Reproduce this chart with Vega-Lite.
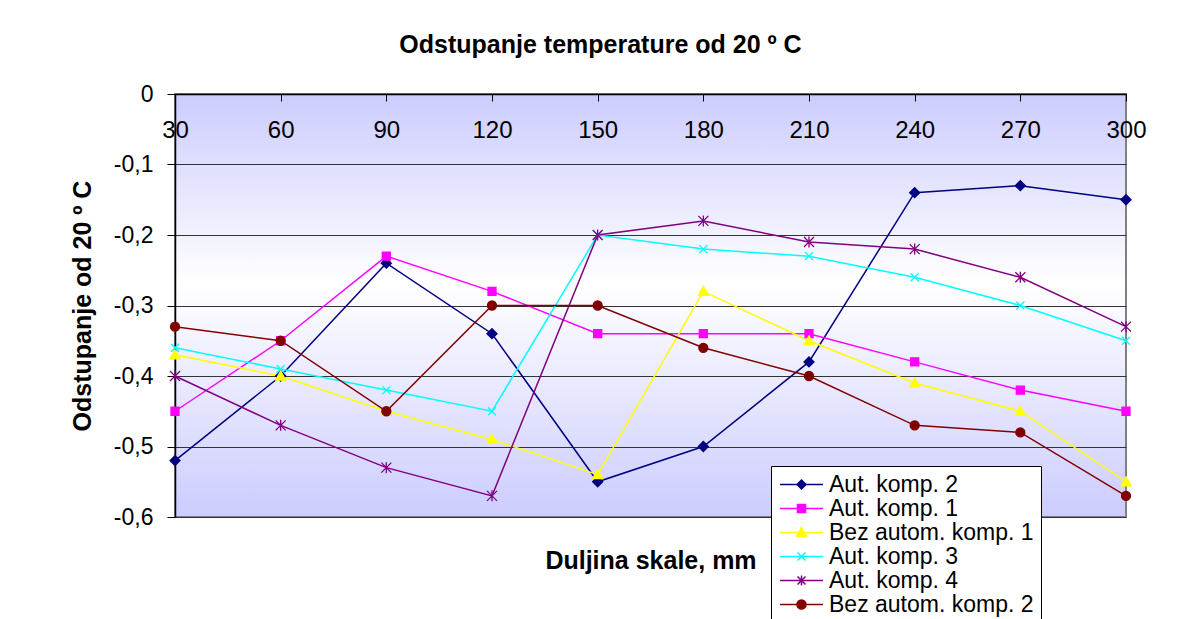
{
  "$schema": "https://vega.github.io/schema/vega-lite/v6.json",
  "width": 951,
  "height": 423,
  "autosize": {"type": "none"},
  "padding": {"left": 175, "top": 94, "right": 51, "bottom": 102},
  "background": "white",
  "title": {
    "text": "Odstupanje temperature od 20 º C",
    "font": "Liberation Sans",
    "fontSize": 25,
    "fontWeight": "bold",
    "color": "black",
    "anchor": "middle",
    "dx": -50,
    "dy": 36,
    "baseline": "alphabetic",
    "offset": 41
  },
  "config": {
    "font": "Liberation Sans",
    "view": {
      "fill": {
        "gradient": "linear",
        "x1": 0, "y1": 0, "x2": 0, "y2": 1,
        "stops": [
          {"offset": 0, "color": "#CCCCFF"},
          {"offset": 0.45, "color": "#FFFFFF"},
          {"offset": 1, "color": "#CCCCFF"}
        ]
      },
      "stroke": "#808080",
      "strokeWidth": 2
    }
  },
  "data": {
    "values": [
      {"s": "Aut. komp. 2", "x": 30, "y": -0.52},
      {"s": "Aut. komp. 2", "x": 60, "y": -0.40},
      {"s": "Aut. komp. 2", "x": 90, "y": -0.24},
      {"s": "Aut. komp. 2", "x": 120, "y": -0.34},
      {"s": "Aut. komp. 2", "x": 150, "y": -0.55},
      {"s": "Aut. komp. 2", "x": 180, "y": -0.50},
      {"s": "Aut. komp. 2", "x": 210, "y": -0.38},
      {"s": "Aut. komp. 2", "x": 240, "y": -0.14},
      {"s": "Aut. komp. 2", "x": 270, "y": -0.13},
      {"s": "Aut. komp. 2", "x": 300, "y": -0.15},
      {"s": "Aut. komp. 1", "x": 30, "y": -0.45},
      {"s": "Aut. komp. 1", "x": 60, "y": -0.35},
      {"s": "Aut. komp. 1", "x": 90, "y": -0.23},
      {"s": "Aut. komp. 1", "x": 120, "y": -0.28},
      {"s": "Aut. komp. 1", "x": 150, "y": -0.34},
      {"s": "Aut. komp. 1", "x": 180, "y": -0.34},
      {"s": "Aut. komp. 1", "x": 210, "y": -0.34},
      {"s": "Aut. komp. 1", "x": 240, "y": -0.38},
      {"s": "Aut. komp. 1", "x": 270, "y": -0.42},
      {"s": "Aut. komp. 1", "x": 300, "y": -0.45},
      {"s": "Bez autom. komp. 1", "x": 30, "y": -0.37},
      {"s": "Bez autom. komp. 1", "x": 60, "y": -0.40},
      {"s": "Bez autom. komp. 1", "x": 90, "y": -0.45},
      {"s": "Bez autom. komp. 1", "x": 120, "y": -0.49},
      {"s": "Bez autom. komp. 1", "x": 150, "y": -0.54},
      {"s": "Bez autom. komp. 1", "x": 180, "y": -0.28},
      {"s": "Bez autom. komp. 1", "x": 210, "y": -0.35},
      {"s": "Bez autom. komp. 1", "x": 240, "y": -0.41},
      {"s": "Bez autom. komp. 1", "x": 270, "y": -0.45},
      {"s": "Bez autom. komp. 1", "x": 300, "y": -0.55},
      {"s": "Aut. komp. 3", "x": 30, "y": -0.36},
      {"s": "Aut. komp. 3", "x": 60, "y": -0.39},
      {"s": "Aut. komp. 3", "x": 90, "y": -0.42},
      {"s": "Aut. komp. 3", "x": 120, "y": -0.45},
      {"s": "Aut. komp. 3", "x": 150, "y": -0.20},
      {"s": "Aut. komp. 3", "x": 180, "y": -0.22},
      {"s": "Aut. komp. 3", "x": 210, "y": -0.23},
      {"s": "Aut. komp. 3", "x": 240, "y": -0.26},
      {"s": "Aut. komp. 3", "x": 270, "y": -0.30},
      {"s": "Aut. komp. 3", "x": 300, "y": -0.35},
      {"s": "Aut. komp. 4", "x": 30, "y": -0.40},
      {"s": "Aut. komp. 4", "x": 60, "y": -0.47},
      {"s": "Aut. komp. 4", "x": 90, "y": -0.53},
      {"s": "Aut. komp. 4", "x": 120, "y": -0.57},
      {"s": "Aut. komp. 4", "x": 150, "y": -0.20},
      {"s": "Aut. komp. 4", "x": 180, "y": -0.18},
      {"s": "Aut. komp. 4", "x": 210, "y": -0.21},
      {"s": "Aut. komp. 4", "x": 240, "y": -0.22},
      {"s": "Aut. komp. 4", "x": 270, "y": -0.26},
      {"s": "Aut. komp. 4", "x": 300, "y": -0.33},
      {"s": "Bez autom. komp. 2", "x": 30, "y": -0.33},
      {"s": "Bez autom. komp. 2", "x": 60, "y": -0.35},
      {"s": "Bez autom. komp. 2", "x": 90, "y": -0.45},
      {"s": "Bez autom. komp. 2", "x": 120, "y": -0.30},
      {"s": "Bez autom. komp. 2", "x": 150, "y": -0.30},
      {"s": "Bez autom. komp. 2", "x": 180, "y": -0.36},
      {"s": "Bez autom. komp. 2", "x": 210, "y": -0.40},
      {"s": "Bez autom. komp. 2", "x": 240, "y": -0.47},
      {"s": "Bez autom. komp. 2", "x": 270, "y": -0.48},
      {"s": "Bez autom. komp. 2", "x": 300, "y": -0.57}
    ]
  },
  "encoding": {
    "x": {
      "field": "x",
      "type": "quantitative",
      "scale": {"domain": [30, 300], "nice": false, "zero": false},
      "axis": {
        "orient": "top",
        "values": [30, 60, 90, 120, 150, 180, 210, 240, 270, 300],
        "grid": false,
        "domainColor": "black",
        "domainWidth": 1.5,
        "tickColor": "black",
        "tickSize": -7,
        "tickWidth": 1,
        "labelFontSize": 24,
        "labelColor": "black",
        "labelBaseline": "middle",
        "labelPadding": -29,
        "labelFlush": false,
        "labelOverlap": false,
        "title": "Duljina skale, mm",
        "titleFontSize": 25,
        "titleFontWeight": "bold",
        "titleColor": "black",
        "titleY": 466,
        "titleBaseline": "middle"
      }
    },
    "y": {
      "field": "y",
      "type": "quantitative",
      "scale": {"domain": [-0.6, 0], "nice": false, "zero": false},
      "axis": {
        "values": [0, -0.1, -0.2, -0.3, -0.4, -0.5, -0.6],
        "labelExpr": "datum.value == 0 ? '0' : '-0,' + round(-datum.value * 10)",
        "labelFontSize": 23,
        "labelColor": "black",
        "labelPadding": 14,
        "tickSize": 8,
        "tickColor": "black",
        "domainColor": "black",
        "domainWidth": 1.5,
        "grid": true,
        "gridColor": "#333333",
        "gridWidth": 1,
        "title": "Odstupanje od 20 º C",
        "titleFontSize": 25,
        "titleFontWeight": "bold",
        "titleColor": "black",
        "titlePadding": 18
      }
    },
    "color": {
      "field": "s",
      "type": "nominal",
      "scale": {
        "domain": ["Aut. komp. 2", "Aut. komp. 1", "Bez autom. komp. 1", "Aut. komp. 3", "Aut. komp. 4", "Bez autom. komp. 2"],
        "range": ["#000080", "#FF00FF", "#FFFF00", "#00FFFF", "#800080", "#800000"]
      },
      "legend": {
        "orient": "none",
        "legendX": 596,
        "legendY": 372,
        "title": null,
        "labelFontSize": 23,
        "labelColor": "black",
        "labelLimit": 400,
        "symbolSize": 400,
        "symbolOffset": 12,
        "labelOffset": 16,
        "rowPadding": 0,
        "padding": 7,
        "strokeColor": "black",
        "fillColor": "white",
        "encode": {
          "symbols": {
            "update": {
              "shape": {"signal": "datum.value == 'Aut. komp. 2' ? 'M-2.15,0L2.15,0M-0.45,0L0,-0.45L0.45,0L0,0.45Z' : datum.value == 'Aut. komp. 1' ? 'M-2.15,0L2.15,0M-0.4,-0.4L0.4,-0.4L0.4,0.4L-0.4,0.4Z' : datum.value == 'Bez autom. komp. 1' ? 'M-2.15,0L2.15,0M0,-0.5L0.5,0.4L-0.5,0.4Z' : datum.value == 'Aut. komp. 3' ? 'M-2.15,0L2.15,0M-0.4,-0.4L0.4,0.4M0.4,-0.4L-0.4,0.4' : datum.value == 'Aut. komp. 4' ? 'M-2.15,0L2.15,0M-0.4,-0.4L0.4,0.4M0.4,-0.4L-0.4,0.4M0,-0.5L0,0.5' : 'M-2.15,0L2.15,0M0.45,0A0.45,0.45 0 1,1 -0.45,0A0.45,0.45 0 1,1 0.45,0Z'"},
              "fill": {"signal": "scale('color', datum.value)"},
              "stroke": {"signal": "scale('color', datum.value)"},
              "strokeWidth": {"value": 1.5},
              "opacity": {"value": 1}
            }
          }
        }
      }
    }
  },
  "layer": [
    {
      "mark": {"type": "line", "strokeWidth": 1.5}
    },
    {
      "mark": {"type": "point", "filled": true, "size": 100, "opacity": 1, "strokeWidth": 1.3},
      "encoding": {
        "stroke": {
          "field": "s",
          "type": "nominal",
          "scale": {
            "range": ["#FF00FF", "#000080", "#00FFFF", "#800080", "#FFFF00", "#800000"]
          },
          "legend": null
        },
        "shape": {
          "field": "s",
          "type": "nominal",
          "scale": {
            "range": [
              "M-0.8,-0.8L0.8,-0.8L0.8,0.8L-0.8,0.8Z",
              "M-1,0L0,-1L1,0L0,1Z",
              "M-0.8,-0.8L0.8,0.8M0.8,-0.8L-0.8,0.8",
              "M-1,-1L1,1M1,-1L-1,1M0,-1.1L0,1.1",
              "M0,-1L1,0.8L-1,0.8Z",
              "M0.9,0A0.9,0.9 0 1,1 -0.9,0A0.9,0.9 0 1,1 0.9,0Z"
            ]
          },
          "legend": null
        }
      }
    }
  ]
}
